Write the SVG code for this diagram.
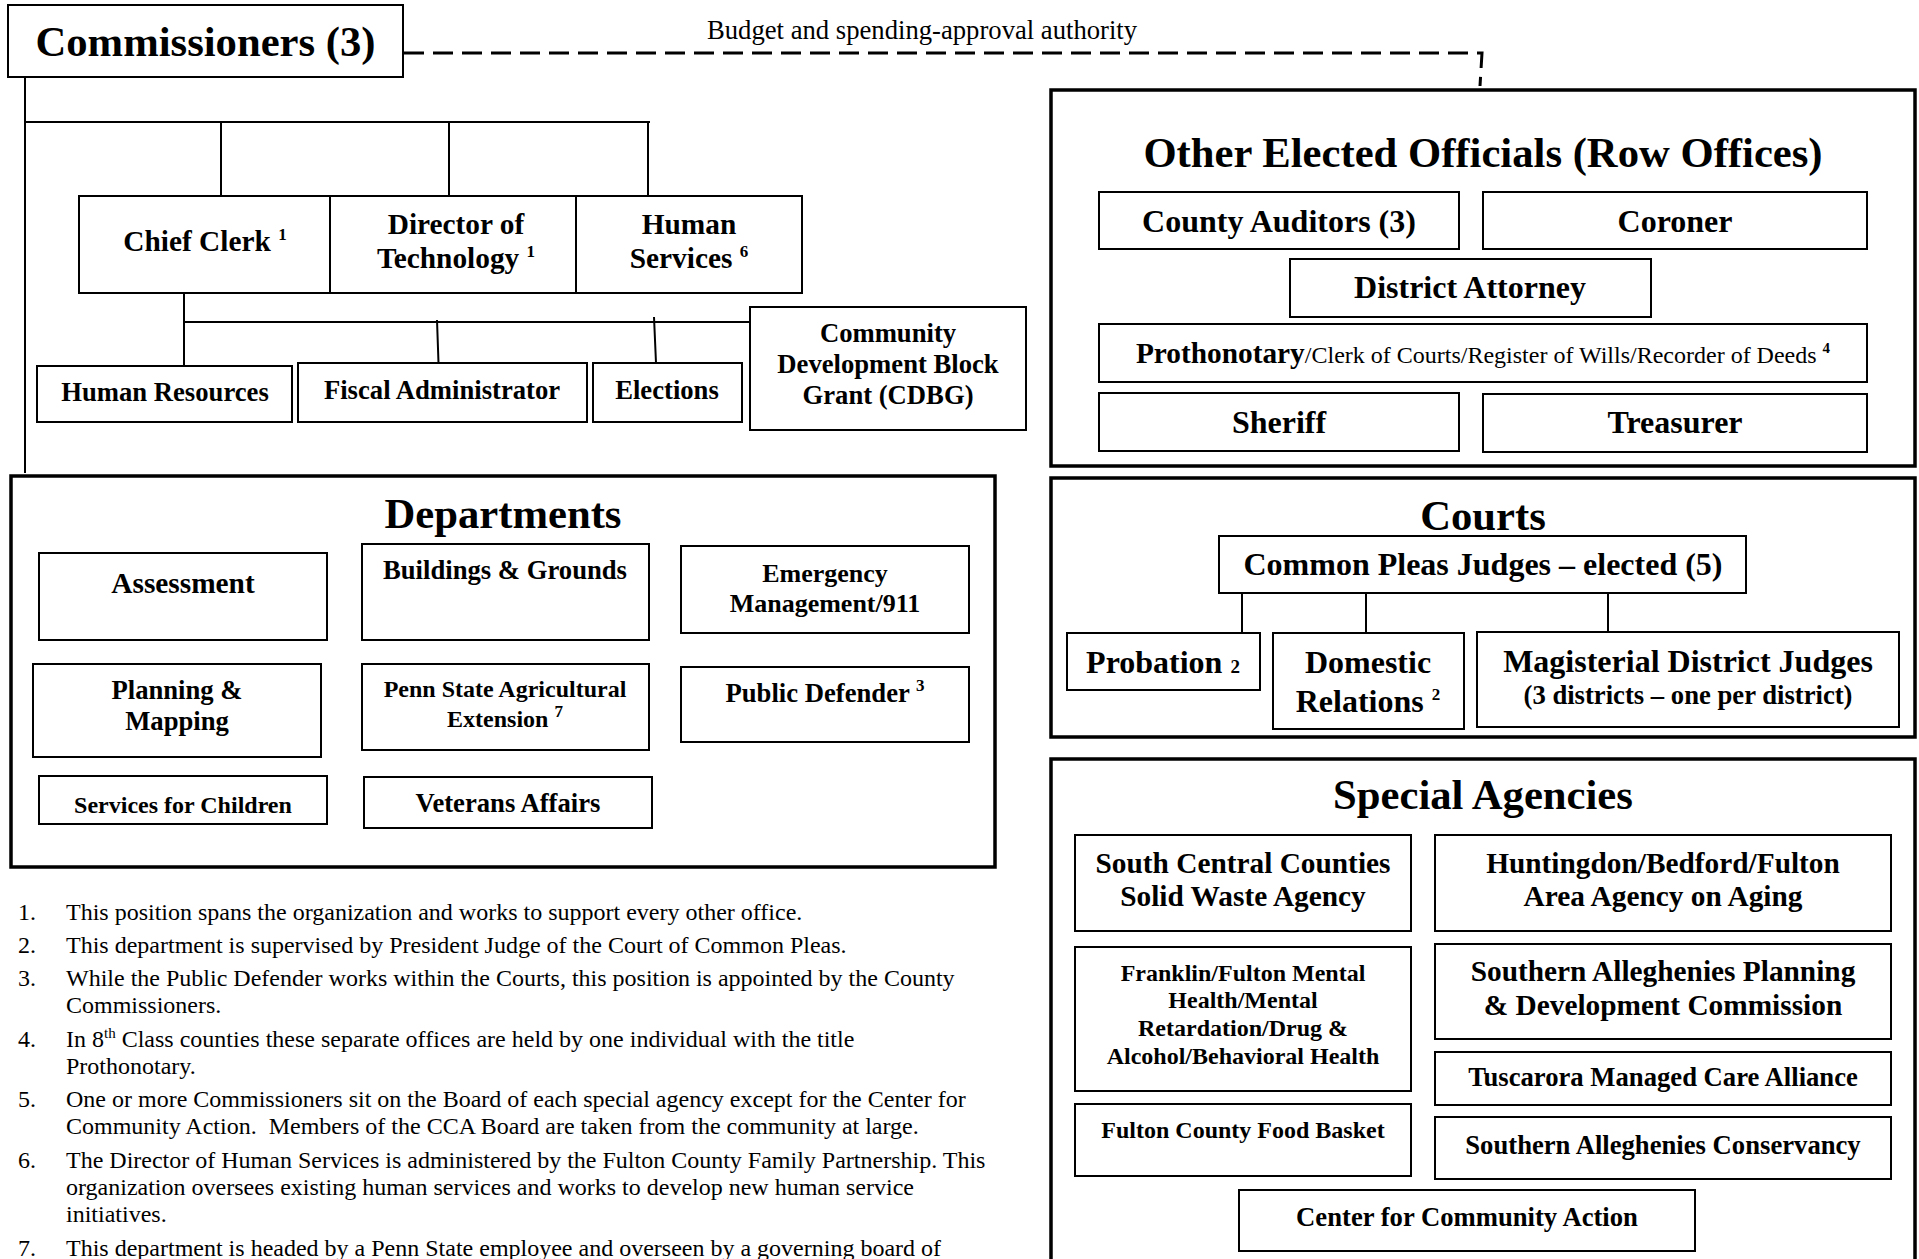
<svg xmlns="http://www.w3.org/2000/svg" width="1919" height="1259" viewBox="0 0 1919 1259">
<style>
text { font-family: "Liberation Serif", "Times New Roman", serif; fill: #000; }
.b { font-weight: bold; }
.c { text-anchor: middle; }
.box { fill: #fff; stroke: #000; stroke-width: 2; }
.frame { fill: none; stroke: #000; stroke-width: 3.5; }
.ln { stroke: #000; stroke-width: 2; fill: none; }
.dash { stroke: #000; stroke-width: 3; fill: none; stroke-dasharray: 20 9; }
.s42 { font-size: 42.67px; }
.s32 { font-size: 32px; }
.s29 { font-size: 29.33px; }
.s27 { font-size: 26.67px; }
.s26 { font-size: 26px; }
.s24 { font-size: 24px; }
.sup { font-size: 17px; }
.note { font-size: 24px; }
</style>
<rect x="0" y="0" width="1919" height="1259" fill="#fff"/>

<g id="connectors">
  <path class="dash" d="M404,53 H1482 L1480,86"/>
  <text x="707" y="39" class="s27">Budget and spending-approval authority</text>
  <path class="ln" d="M25,77 V473"/>
  <path class="ln" d="M25,122 H650"/>
  <path class="ln" d="M221,122 V196 M449,122 V196 M648,122 V196"/>
  <path class="ln" d="M184,294 V366"/>
  <path class="ln" d="M184,322 H750"/>
  <path class="ln" d="M437,320 L438.5,363 M654,317 L656,363"/>
  <path class="ln" d="M1242,593 V633 M1366,593 V633 M1608,593 V632"/>
</g>

<g id="commissioners">
  <rect class="box" x="8" y="5" width="395" height="72"/>
  <text class="b c s42" x="205.5" y="56">Commissioners (3)</text>
</g>

<g id="chief-clerk">
  <rect class="box" x="79" y="196" width="251" height="97"/>
  <text class="b c s29" x="205" y="251">Chief Clerk <tspan class="sup" dy="-11">1</tspan></text>
</g>
<g id="director-technology">
  <rect class="box" x="330" y="196" width="246" height="97"/>
  <text class="b c s29" x="456" y="234">Director of</text>
  <text class="b c s29" x="456" y="268">Technology <tspan class="sup" dy="-11">1</tspan></text>
</g>
<g id="human-services">
  <rect class="box" x="576" y="196" width="226" height="97"/>
  <text class="b c s29" x="689" y="234">Human</text>
  <text class="b c s29" x="689" y="268">Services <tspan class="sup" dy="-11">6</tspan></text>
</g>

<g id="human-resources">
  <rect class="box" x="37" y="366" width="255" height="56"/>
  <text class="b c s27" x="165" y="401">Human Resources</text>
</g>
<g id="fiscal-administrator">
  <rect class="box" x="298" y="363" width="289" height="59"/>
  <text class="b c s27" x="442" y="399">Fiscal Administrator</text>
</g>
<g id="elections">
  <rect class="box" x="593" y="363" width="149" height="59"/>
  <text class="b c s27" x="667" y="399">Elections</text>
</g>
<g id="cdbg">
  <rect class="box" x="750" y="307" width="276" height="123"/>
  <text class="b c s27" x="888" y="342">Community</text>
  <text class="b c s27" x="888" y="373">Development Block</text>
  <text class="b c s27" x="888" y="404">Grant (CDBG)</text>
</g>

<g id="departments">
  <rect class="frame" x="11" y="476" width="984" height="391"/>
  <text class="b c s42" x="503" y="528">Departments</text>
</g>
<g id="assessment">
  <rect class="box" x="39" y="553" width="288" height="87"/>
  <text class="b c s29" x="183" y="593">Assessment</text>
</g>
<g id="buildings-grounds">
  <rect class="box" x="362" y="544" width="287" height="96"/>
  <text class="b c s27" x="505" y="579">Buildings &amp; Grounds</text>
</g>
<g id="emergency-management">
  <rect class="box" x="681" y="546" width="288" height="87"/>
  <text class="b c s26" x="825" y="582">Emergency</text>
  <text class="b c s26" x="825" y="612">Management/911</text>
</g>
<g id="planning-mapping">
  <rect class="box" x="33" y="664" width="288" height="93"/>
  <text class="b c s27" x="177" y="699">Planning &amp;</text>
  <text class="b c s27" x="177" y="730">Mapping</text>
</g>
<g id="penn-state-extension">
  <rect class="box" x="362" y="664" width="287" height="86"/>
  <text class="b c s24" x="505" y="697">Penn State Agricultural</text>
  <text class="b c s24" x="505" y="727">Extension <tspan class="sup" dy="-10">7</tspan></text>
</g>
<g id="public-defender">
  <rect class="box" x="681" y="667" width="288" height="75"/>
  <text class="b c s27" x="825" y="702">Public Defender <tspan class="sup" dy="-11">3</tspan></text>
</g>
<g id="services-for-children">
  <rect class="box" x="39" y="776" width="288" height="48"/>
  <text class="b c s24" x="183" y="813">Services for Children</text>
</g>
<g id="veterans-affairs">
  <rect class="box" x="364" y="777" width="288" height="51"/>
  <text class="b c s27" x="508" y="812">Veterans Affairs</text>
</g>

<g id="row-offices">
  <rect class="frame" x="1051" y="90" width="864" height="376"/>
  <text class="b c s42" x="1483" y="167">Other Elected Officials (Row Offices)</text>
</g>
<g id="county-auditors">
  <rect class="box" x="1099" y="192" width="360" height="57"/>
  <text class="b c s32" x="1279" y="232">County Auditors (3)</text>
</g>
<g id="coroner">
  <rect class="box" x="1483" y="192" width="384" height="57"/>
  <text class="b c s32" x="1675" y="232">Coroner</text>
</g>
<g id="district-attorney">
  <rect class="box" x="1290" y="259" width="361" height="58"/>
  <text class="b c s32" x="1470" y="298">District Attorney</text>
</g>
<g id="prothonotary">
  <rect class="box" x="1099" y="324" width="768" height="58"/>
  <text class="c s24" x="1483" y="363"><tspan class="b s29">Prothonotary</tspan>/Clerk of Courts/Register of Wills/Recorder of Deeds <tspan class="b" font-size="15" dy="-10">4</tspan></text>
</g>
<g id="sheriff">
  <rect class="box" x="1099" y="393" width="360" height="58"/>
  <text class="b c s32" x="1279" y="433">Sheriff</text>
</g>
<g id="treasurer">
  <rect class="box" x="1483" y="394" width="384" height="58"/>
  <text class="b c s32" x="1675" y="433">Treasurer</text>
</g>

<g id="courts">
  <rect class="frame" x="1051" y="478" width="864" height="259"/>
  <text class="b c s42" x="1483" y="530">Courts</text>
</g>
<g id="common-pleas-judges">
  <rect class="box" x="1219" y="536" width="527" height="57"/>
  <text class="b c s32" x="1483" y="575">Common Pleas Judges – elected (5)</text>
</g>
<g id="probation">
  <rect class="box" x="1067" y="633" width="193" height="57"/>
  <text class="b c s32" x="1163" y="673">Probation <tspan font-size="19">2</tspan></text>
</g>
<g id="domestic-relations">
  <rect class="box" x="1273" y="633" width="191" height="96"/>
  <text class="b c s32" x="1368" y="673">Domestic</text>
  <text class="b c s32" x="1368" y="712">Relations <tspan class="sup" dy="-12">2</tspan></text>
</g>
<g id="magisterial-district-judges">
  <rect class="box" x="1477" y="632" width="422" height="95"/>
  <text class="b c s32" x="1688" y="672">Magisterial District Judges</text>
  <text class="b c s27" x="1688" y="704">(3 districts – one per district)</text>
</g>

<g id="special-agencies">
  <rect class="frame" x="1051" y="759" width="864" height="530"/>
  <text class="b c s42" x="1483" y="809">Special Agencies</text>
</g>
<g id="solid-waste-agency">
  <rect class="box" x="1075" y="835" width="336" height="96"/>
  <text class="b c s29" x="1243" y="873">South Central Counties</text>
  <text class="b c s29" x="1243" y="906">Solid Waste Agency</text>
</g>
<g id="area-agency-aging">
  <rect class="box" x="1435" y="835" width="456" height="96"/>
  <text class="b c s29" x="1663" y="873">Huntingdon/Bedford/Fulton</text>
  <text class="b c s29" x="1663" y="906">Area Agency on Aging</text>
</g>
<g id="mental-health">
  <rect class="box" x="1075" y="947" width="336" height="144"/>
  <text class="b c s24" x="1243" y="981">Franklin/Fulton Mental</text>
  <text class="b c s24" x="1243" y="1008">Health/Mental</text>
  <text class="b c s24" x="1243" y="1036">Retardation/Drug &amp;</text>
  <text class="b c s24" x="1243" y="1064">Alcohol/Behavioral Health</text>
</g>
<g id="sap-dc">
  <rect class="box" x="1435" y="944" width="456" height="95"/>
  <text class="b c s29" x="1663" y="981">Southern Alleghenies Planning</text>
  <text class="b c s29" x="1663" y="1015">&amp; Development Commission</text>
</g>
<g id="tuscarora">
  <rect class="box" x="1435" y="1052" width="456" height="53"/>
  <text class="b c s27" x="1663" y="1086">Tuscarora Managed Care Alliance</text>
</g>
<g id="food-basket">
  <rect class="box" x="1075" y="1104" width="336" height="72"/>
  <text class="b c s24" x="1243" y="1138">Fulton County Food Basket</text>
</g>
<g id="conservancy">
  <rect class="box" x="1435" y="1117" width="456" height="62"/>
  <text class="b c s27" x="1663" y="1154">Southern Alleghenies Conservancy</text>
</g>
<g id="community-action">
  <rect class="box" x="1239" y="1190" width="456" height="61"/>
  <text class="b c s27" x="1467" y="1226">Center for Community Action</text>
</g>

<g id="footnotes" class="note">
  <text class="note" x="18" y="920">1.</text>
  <text class="note" x="66" y="920">This position spans the organization and works to support every other office.</text>
  <text class="note" x="18" y="953">2.</text>
  <text class="note" x="66" y="953">This department is supervised by President Judge of the Court of Common Pleas.</text>
  <text class="note" x="18" y="986">3.</text>
  <text class="note" x="66" y="986">While the Public Defender works within the Courts, this position is appointed by the County</text>
  <text class="note" x="66" y="1013">Commissioners.</text>
  <text class="note" x="18" y="1047">4.</text>
  <text class="note" x="66" y="1047">In 8<tspan font-size="15" dy="-9">th</tspan><tspan dy="9"> Class counties these separate offices are held by one individual with the title</tspan></text>
  <text class="note" x="66" y="1074">Prothonotary.</text>
  <text class="note" x="18" y="1107">5.</text>
  <text class="note" x="66" y="1107">One or more Commissioners sit on the Board of each special agency except for the Center for</text>
  <text class="note" x="66" y="1134">Community Action.&#160; Members of the CCA Board are taken from the community at large.</text>
  <text class="note" x="18" y="1168">6.</text>
  <text class="note" x="66" y="1168">The Director of Human Services is administered by the Fulton County Family Partnership. This</text>
  <text class="note" x="66" y="1195">organization oversees existing human services and works to develop new human service</text>
  <text class="note" x="66" y="1222">initiatives.</text>
  <text class="note" x="18" y="1256">7.</text>
  <text class="note" x="66" y="1256">This department is headed by a Penn State employee and overseen by a governing board of</text>
</g>
</svg>
